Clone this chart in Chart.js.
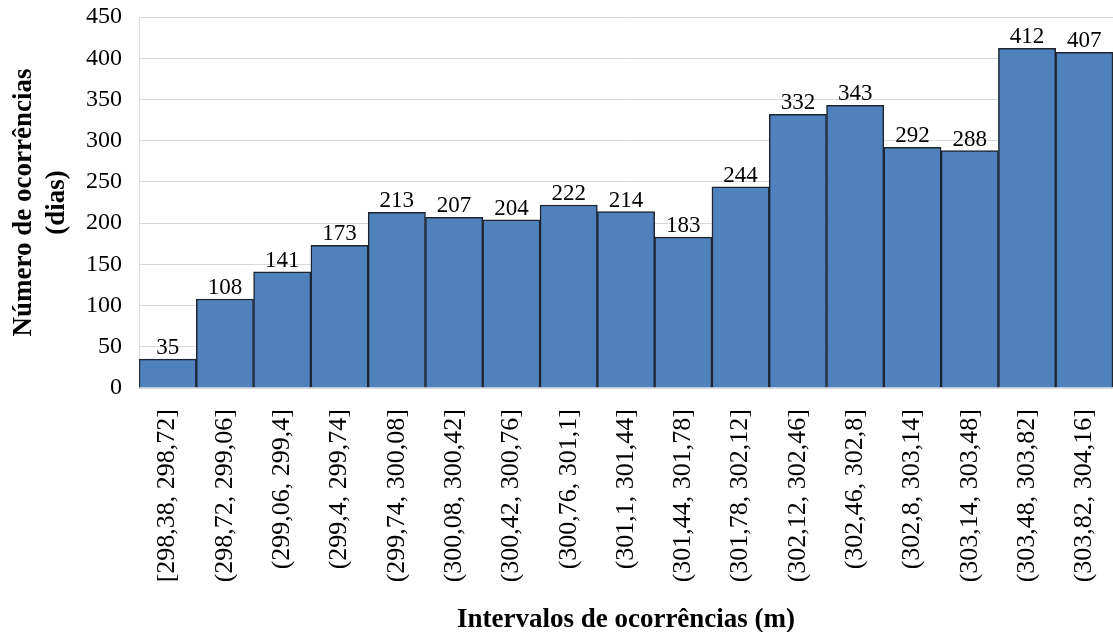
<!DOCTYPE html>
<html lang="pt">
<head>
    <meta charset="UTF-8">
    <title>Intervalos de ocorrências</title>
    <script src="https://cdn.jsdelivr.net/npm/chart.js"></script>
    <style>
        body { margin: 0; background: #ffffff; }
        .wrap { width: 1113px; height: 632px; }
    </style>
</head>
<body>
    <div class="wrap">
        <canvas id="histo"></canvas>
    </div>

    <script>
        // data
        const intervals = [
            '[298,38, 298,72]', '(298,72, 299,06]', '(299,06, 299,4]', '(299,4, 299,74]',
            '(299,74, 300,08]', '(300,08, 300,42]', '(300,42, 300,76]', '(300,76, 301,1]',
            '(301,1, 301,44]', '(301,44, 301,78]', '(301,78, 302,12]', '(302,12, 302,46]',
            '(302,46, 302,8]', '(302,8, 303,14]', '(303,14, 303,48]', '(303,48, 303,82]',
            '(303,82, 304,16]'
        ];
        const occurrences = [35, 108, 141, 173, 213, 207, 204, 222, 214, 183, 244, 332, 343, 292, 288, 412, 407];
        const yMin = 0, yMax = 450, yStep = 50;

        const serif = '"Liberation Serif", "Times New Roman", serif';

        // value labels on top of the bars
        const barValues = {
            id: 'barValues',
            afterDatasetsDraw(chart) {
                const ctx = chart.ctx;
                const meta = chart.getDatasetMeta(0);
                ctx.save();
                ctx.font = '23px ' + serif;
                ctx.fillStyle = '#000';
                ctx.textAlign = 'center';
                ctx.textBaseline = 'alphabetic';
                meta.data.forEach((bar, i) => {
                    ctx.fillText(occurrences[i], bar.x, bar.y - 5);
                });
                ctx.restore();
            }
        };

        new Chart(document.getElementById('histo'), {
            type: 'bar',
            data: {
                labels: intervals,
                datasets: [{
                    data: occurrences,
                    backgroundColor: '#4F81BD',
                    borderColor: '#1d2530',
                    borderWidth: 1.5,
                    barPercentage: 1,
                    categoryPercentage: 1
                }]
            },
            options: {
                responsive: true,
                maintainAspectRatio: false,
                animation: false,
                layout: { padding: { top: 17, right: 0, left: 0, bottom: 0 } },
                scales: {
                    x: {
                        offset: true,
                        grid: { display: false },
                        border: { color: '#d9d9d9', width: 1 },
                        ticks: {
                            color: '#000',
                            font: { family: serif, size: 26 },
                            minRotation: 90,
                            maxRotation: 90,
                            padding: 13,
                            autoSkip: false
                        },
                        title: {
                            display: true,
                            text: 'Intervalos de ocorrências (m)',
                            color: '#000',
                            font: { family: serif, size: 27, weight: 'bold' },
                            padding: { top: 20, bottom: -4 }
                        },
                        afterFit(scale) {
                            scale.height = 244;
                            scale.paddingLeft = 0;
                            scale.paddingRight = 0;
                        }
                    },
                    y: {
                        min: yMin,
                        max: yMax,
                        grid: { color: '#d9d9d9', drawTicks: false },
                        border: { color: '#d9d9d9', width: 1 },
                        ticks: {
                            stepSize: yStep,
                            color: '#000',
                            font: { family: serif, size: 24 },
                            padding: 17
                        },
                        title: {
                            display: true,
                            text: ['Número de ocorrências', '(dias)'],
                            color: '#000',
                            font: { family: serif, size: 27, weight: 'bold', lineHeight: 1.24 },
                            padding: { top: 7, bottom: 0 }
                        },
                        afterFit(scale) {
                            scale.width = 139;
                            scale.paddingTop = 0;
                            scale.paddingBottom = 0;
                        }
                    }
                },
                plugins: {
                    legend: { display: false },
                    tooltip: { enabled: false }
                }
            },
            plugins: [barValues]
        });
    </script>
</body>
</html>
